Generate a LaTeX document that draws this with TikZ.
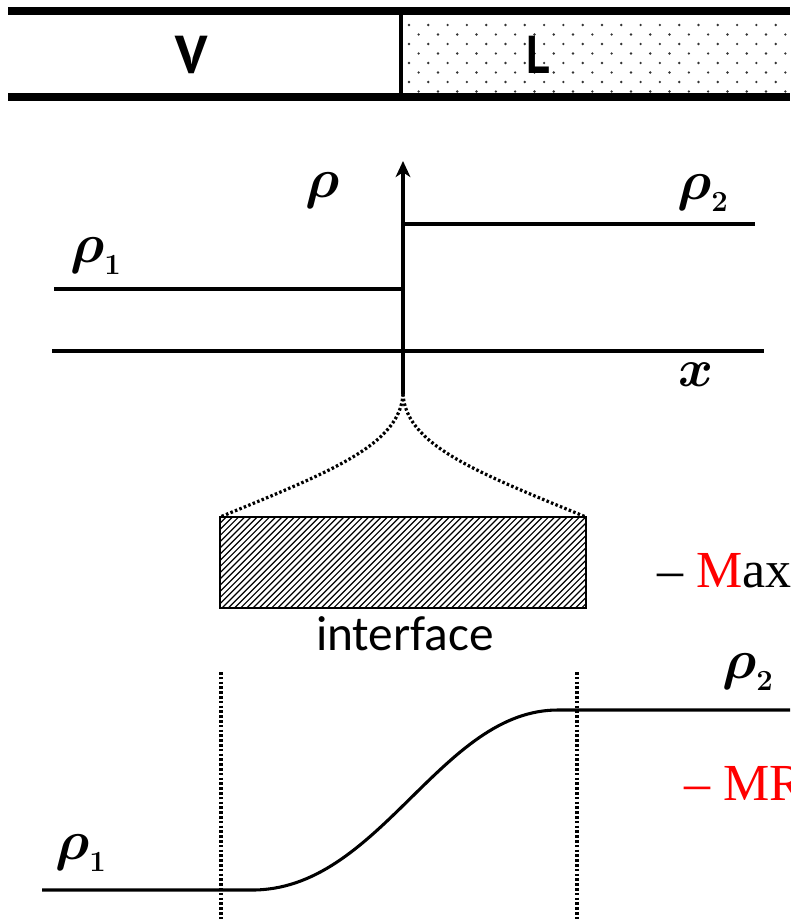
\documentclass[tikz,border=0pt]{standalone}
\usepackage[no-math]{fontspec}
\setmainfont{Liberation Serif}
\usepackage{amsmath}
\newfontfamily\ifacefont{Carlito}
\newfontfamily\vlfont{PT Sans}
\usetikzlibrary{arrows.meta}
\newcommand\rholetter{\scalebox{1.68}{\fontsize{24.88}{30}\selectfont$\boldsymbol{\rho}$}}
\newcommand\rsub[1]{\raisebox{-9pt}{\scalebox{0.88}{\fontsize{24.88}{30}\selectfont$\mathbf{#1}$}}}
\begin{document}
\begin{tikzpicture}[x=0.75pt,y=-0.75pt,
  band/.style={line width=5.5pt},
  curve/.style={line width=2.3pt},
  dotline/.style={line width=2.4pt, dash pattern=on 1.9pt off 1.7pt},
  lab/.style={inner sep=0pt, anchor=base west},
  rholab/.style={lab},
  redtext/.style={lab, font=\fontsize{39}{44}\selectfont},
  vltext/.style={inner sep=0pt, font=\vlfont\bfseries\fontsize{40}{46}\selectfont}
]
\useasboundingbox (0,0) rectangle (790,921);
\clip (0,0) rectangle (790,921);

% ---- top band: vapour | liquid ----
\foreach \r in {0,...,7} {
  \pgfmathsetmacro\yy{25+9.5*\r}
  \pgfmathsetmacro\xo{409+mod(\r,2)*9.65}
  \foreach \c in {0,...,19} {
    \fill[black!80] (\xo+19.3*\c,\yy) circle (1pt);
  }
}
\coordinate (bandTL) at (8,11);
\coordinate (bandTR) at (790,11);
\coordinate (bandBL) at (8,97);
\coordinate (bandBR) at (790,97);
\coordinate (divT) at (401,11);
\coordinate (divB) at (401,97);
\draw[band] (bandTL) -- (bandTR);
\draw[band] (bandBL) -- (bandBR);
\draw[line width=3.5pt] (divT) -- (divB);
\node[vltext] (V) at (192,55) {V};
\node[vltext, xscale=0.85] (L) at (538,55) {L};

% ---- sharp step profile ----
\coordinate (ax0) at (403,394);
\coordinate (axtop) at (403,161);
\coordinate (xl) at (52,351);
\coordinate (xr) at (764,351);
\coordinate (r1l) at (54,289);
\coordinate (r1r) at (403,289);
\coordinate (r2l) at (403,224);
\coordinate (r2r) at (755,224);
\draw[curve, -{Stealth[length=12pt,width=11pt,inset=3.5pt]}] (ax0) -- (axtop);
\draw[curve] (xl) -- (xr);
\draw[curve] (r1l) -- (r1r);
\draw[curve] (r2l) -- (r2r);
\node[rholab] (rho) at (305,197) {\rholetter};
\node[rholab] (rho2a) at (677,199) {\rholetter\rsub{2}};
\node[rholab] (rho1a) at (70,262) {\rholetter\rsub{1}};
\node[lab] (xlab) at (678,386) {\scalebox{1.6}{\fontsize{24.88}{30}\selectfont$\boldsymbol{x}$}};

% ---- zoom into interface ----
\coordinate (rNW) at (220,517);
\coordinate (rNE) at (586,517);
\coordinate (rSE) at (586,608);
\begin{scope}
  \clip (rNW) rectangle (rSE);
  \foreach \k in {0,...,75} {
    \draw[line width=0.9pt] (129+6.2*\k,608) -- (220+6.2*\k,517);
  }
\end{scope}
\draw[line width=1.5pt] (rNW) rectangle (rSE);
\draw[dotline] (ax0) .. controls (400,445) and (330,472) .. (rNW);
\draw[dotline] (ax0) .. controls (406,445) and (476,472) .. (rNE);
\node[inner sep=0pt, anchor=base, font=\ifacefont\fontsize{37}{42}\selectfont] (iface) at (405,650) {interface};

\node[redtext] (max) at (657,587) {– \textcolor{red}{M}ax};

% ---- smooth profile ----
\coordinate (d1t) at (221,672);
\coordinate (d1b) at (221,921);
\coordinate (d2t) at (577,672);
\coordinate (d2b) at (577,921);
\draw[dotline] (d1t) -- (d1b);
\draw[dotline] (d2t) -- (d2b);
\coordinate (pL) at (42,890);
\coordinate (pA) at (250,890);
\coordinate (pB) at (560,710);
\coordinate (pR) at (790,710);
\draw[curve] (pL) -- (pA) .. controls (380,892) and (440,708) .. (pB) -- (pR);
\node[rholab] (rho2b) at (722,678) {\rholetter\rsub{2}};
\node[rholab] (rho1b) at (55,859) {\rholetter\rsub{1}};
\node[redtext, text=red] (mr) at (684,800) {– MR};
\end{tikzpicture}
\end{document}
